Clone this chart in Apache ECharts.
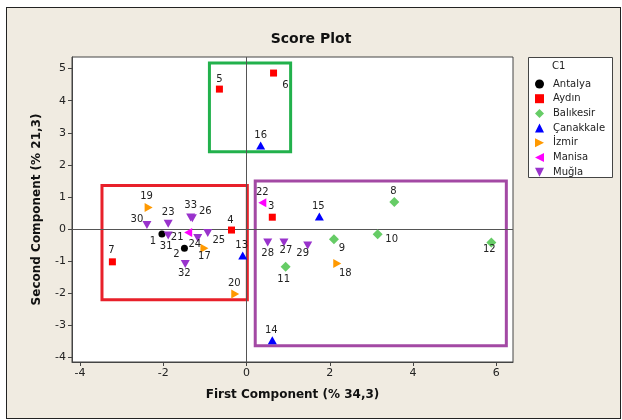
<!DOCTYPE html>
<html>
<head>
<meta charset="utf-8">
<script src="https://cdn.jsdelivr.net/npm/echarts@6/dist/echarts.min.js"></script>
<style>
  html, body { margin: 0; padding: 0; background: #fff; }
  #frame { position: absolute; left: 6px; top: 7px; width: 613px; height: 410px; border: 1px solid #222; background: #f0ebe1; }
  #chart { position: absolute; left: 0; top: 0; width: 622px; height: 420px; }
</style>
</head>
<body>
<div id="frame"></div>
<div id="chart"></div>
<script>
// point id, first component, second component
const antalyaPts = [[1, -2.03, -0.15], [2, -1.49, -0.60]];
const aydinPts = [[3, 0.62, 0.37], [4, -0.36, -0.03], [5, -0.65, 4.36], [6, 0.65, 4.86], [7, -3.22, -1.02]];
const balikesirPts = [[8, 3.55, 0.84], [9, 2.10, -0.32], [10, 3.15, -0.16], [11, 0.94, -1.17], [12, 5.88, -0.42]];
const canakkalePts = [[13, -0.09, -0.82], [14, 0.62, -3.46], [15, 1.75, 0.39], [16, 0.34, 2.60]];
const izmirPts = [[17, -1.01, -0.60], [18, 2.18, -1.07], [19, -2.35, 0.67], [20, -0.27, -2.02]];
const manisaPts = [[21, -1.40, -0.11], [22, 0.38, 0.82]];
const muglaPts = [[23, -1.88, 0.17], [24, -1.17, -0.28], [25, -0.93, -0.12], [26, -1.30, 0.34], [27, 0.90, -0.42],
  [28, 0.51, -0.42], [29, 1.47, -0.51], [30, -2.39, 0.13], [31, -1.88, -0.20], [32, -1.47, -1.09], [33, -1.34, 0.36]];

// highlight boxes: [x1, y1, x2, y2]
const redBox = [-3.47, 1.36, 0.02, -2.20];
const greenBox = [-0.89, 5.17, 1.06, 2.41];
const purpleBox = [0.21, 1.50, 6.24, -3.63];

// where each point label sits relative to its marker (px)
const labelShift = {
  1: [-9, 8], 2: [-8, 6], 3: [-1, -11], 4: [-1, -10], 5: [0, -10], 6: [12, 12], 7: [-1, -11],
  8: [-1, -11], 9: [8, 9], 10: [14, 5], 11: [-2, 13], 12: [-2, 7], 13: [-1, -10], 14: [-1, -10],
  15: [-1, -10], 16: [0, -10], 17: [0, 8], 18: [8, 10], 19: [-2, -11], 20: [-1, -11], 21: [-11, 5],
  22: [0, -10], 23: [0, -11], 24: [-3, 6], 25: [11, 7], 26: [13, -7], 27: [2, 8], 28: [0, 11],
  29: [-5, 8], 30: [-10, -6], 31: [-2, 11], 32: [-1, 9], 33: [0, -12]
};

const font = 'DejaVu Sans';

const groups = [
  { name: 'Antalya', pts: antalyaPts, color: '#000000', symbol: 'circle', size: 7 },
  { name: 'Aydın', pts: aydinPts, color: '#ff0000', symbol: 'rect', size: 7 },
  { name: 'Balıkesir', pts: balikesirPts, color: '#66cc66', symbol: 'diamond', size: 10 },
  { name: 'Çanakkale', pts: canakkalePts, color: '#0000ff', symbol: 'triangle', size: [9, 8] },
  { name: 'İzmir', pts: izmirPts, color: '#ff9900', symbol: 'path://M0,0 L10,5 L0,10 Z', size: [8, 9] },
  { name: 'Manisa', pts: manisaPts, color: '#ff00ff', symbol: 'path://M10,0 L0,5 L10,10 Z', size: [8, 9] },
  { name: 'Muğla', pts: muglaPts, color: '#9933cc', symbol: 'path://M0,0 L10,0 L5,10 Z', size: [9, 8] }
];

const boxStyle = (b, color) => [
  { xAxis: b[0], yAxis: b[1], itemStyle: { color: 'transparent', borderColor: color, borderWidth: 3 } },
  { xAxis: b[2], yAxis: b[3] }
];

const seriesData = groups.map(g => ({
  name: g.name,
  type: 'scatter',
  symbol: g.symbol,
  symbolSize: g.size,
  itemStyle: { color: g.color, opacity: 1 },
  z: 5,
  data: g.pts.map(p => ({
    value: [p[1], p[2], p[0]],
    label: { offset: labelShift[p[0]] }
  })),
  label: {
    show: true,
    position: 'inside',
    formatter: p => String(p.value[2]),
    color: '#222',
    fontFamily: font,
    fontSize: 10
  }
}));

seriesData.push({
  name: 'guides',
  type: 'scatter',
  data: [],
  silent: true,
  markLine: {
    silent: true,
    symbol: 'none',
    label: { show: false },
    lineStyle: { color: '#555', width: 1, type: 'solid' },
    data: [{ xAxis: 0 }, { yAxis: 0 }]
  },
  markArea: {
    silent: true,
    label: { show: false },
    data: [boxStyle(redBox, '#e8202a'), boxStyle(greenBox, '#22b14c'), boxStyle(purpleBox, '#a349a4')]
  }
});

const chart = echarts.init(document.getElementById('chart'), null, { renderer: 'canvas' });
chart.setOption({
  animation: false,
  backgroundColor: 'transparent',
  textStyle: { fontFamily: font },
  title: {
    text: 'Score Plot',
    left: 'center',
    top: 27,
    textStyle: { fontFamily: font, fontSize: 14, fontWeight: 'bold', color: '#111' }
  },
  grid: {
    left: 72, top: 57, width: 441, height: 305,
    show: true, backgroundColor: '#fff', borderColor: '#444', borderWidth: 1
  },
  legend: {
    orient: 'vertical',
    left: 530,
    top: 73,
    itemWidth: 9,
    itemHeight: 9,
    itemGap: 2.7,
    data: groups.map(g => g.name),
    textStyle: { fontFamily: font, fontSize: 10, color: '#222', lineHeight: 12, padding: [0, 0, 0, 4] },
    selectedMode: false
  },
  graphic: [
    { type: 'rect', shape: { x: 528.5, y: 57.5, width: 84, height: 120 }, style: { fill: '#fff', stroke: '#444', lineWidth: 1 }, z: -1 },
    { type: 'text', x: 552, y: 61, style: { text: 'C1', font: '10px "DejaVu Sans"', fill: '#222' } }
  ],
  xAxis: {
    type: 'value',
    min: -4.19,
    max: 6.40,
    minInterval: 2,
    maxInterval: 2,
    name: 'First Component (% 34,3)',
    nameLocation: 'middle',
    nameGap: 27,
    nameTextStyle: { fontFamily: font, fontSize: 12, fontWeight: 'bold', color: '#111' },
    axisLine: { onZero: false, lineStyle: { color: '#444' } },
    axisTick: { length: 4, lineStyle: { color: '#444' } },
    axisLabel: { color: '#222', fontSize: 11, fontFamily: font, margin: 6, showMinLabel: false, showMaxLabel: false },
    splitLine: { show: false }
  },
  yAxis: {
    type: 'value',
    min: -4.14,
    max: 5.36,
    minInterval: 1,
    maxInterval: 1,
    name: 'Second Component (% 21,3)',
    nameLocation: 'middle',
    nameGap: 29,
    nameTextStyle: { fontFamily: font, fontSize: 12, fontWeight: 'bold', color: '#111' },
    axisLine: { onZero: false, lineStyle: { color: '#444' } },
    axisTick: { length: 4, lineStyle: { color: '#444' } },
    axisLabel: { color: '#222', fontSize: 11, fontFamily: font, margin: 6, showMinLabel: false, showMaxLabel: false },
    splitLine: { show: false }
  },
  series: seriesData
});
</script>
</body>
</html>
